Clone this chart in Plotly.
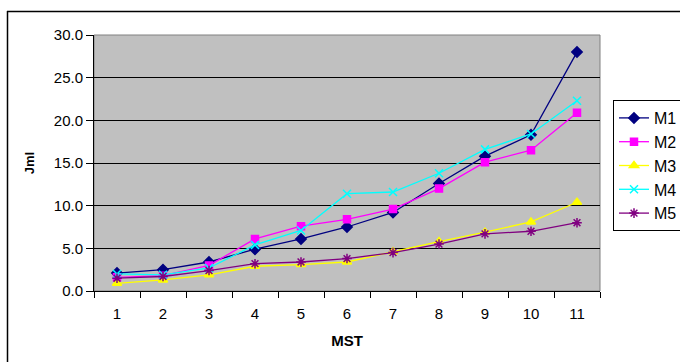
import plotly.graph_objects as go

categories = ["1", "2", "3", "4", "5", "6", "7", "8", "9", "10", "11"]
m1 = [2.1, 2.5, 3.4, 4.9, 6.1, 7.5, 9.2, 12.6, 15.8, 18.3, 28.0]
m2 = [1.6, 1.8, 3.0, 6.1, 7.6, 8.4, 9.6, 12.0, 15.1, 16.5, 20.9]
m3 = [0.9, 1.3, 1.9, 2.9, 3.1, 3.4, 4.6, 5.8, 6.9, 8.1, 10.4]
m4 = [2.0, 1.9, 2.7, 5.4, 7.1, 11.4, 11.6, 13.8, 16.6, 18.4, 22.3]
m5 = [1.5, 1.7, 2.4, 3.2, 3.4, 3.8, 4.5, 5.5, 6.7, 7.0, 8.0]
series_names = ["M1", "M2", "M3", "M4", "M5"]
y_ticks = [0, 5, 10, 15, 20, 25, 30]
y_ticklabels = ["0.0", "5.0", "10.0", "15.0", "20.0", "25.0", "30.0"]

styles = [
    ("#000080", "diamond", 8),
    ("#FF00FF", "square", 7),
    ("#FFFF00", "triangle-up", 8),
    ("#00FFFF", "x-thin-open", 8),
    ("#800080", "asterisk-open", 8),
]

fig = go.Figure()
for name, vals, (col, sym, sz) in zip(series_names, [m1, m2, m3, m4, m5], styles):
    fig.add_trace(go.Scatter(
        x=categories, y=vals, name=name, mode="lines+markers",
        line=dict(color=col, width=1.3),
        marker=dict(symbol=sym, size=sz, color=col, line=dict(color=col, width=1.5)),
    ))

font_family = "Liberation Sans, Arial, sans-serif"

L, R, T, B = 94, 80, 35, 71
W, H = 680, 362
pw, ph = W - L - R, H - T - B

fig.update_layout(
    width=W, height=H, autosize=False,
    margin=dict(l=L, r=R, t=T, b=B, pad=0, autoexpand=False),
    paper_bgcolor="white", plot_bgcolor="#C0C0C0",
    font=dict(family=font_family, size=15, color="black"),
    showlegend=True,
    legend=dict(
        xref="container", yref="container",
        x=613 / W, y=1 - 100 / H, xanchor="left", yanchor="top",
        bordercolor="black", borderwidth=1, bgcolor="white",
        font=dict(size=16, family=font_family), tracegroupgap=0,
        itemwidth=30,
    ),
    xaxis=dict(
        type="category", range=[-0.5, len(categories) - 0.5],
        tickson="boundaries", ticks="outside", ticklen=6,
        tickcolor="black", showline=True, linecolor="black", linewidth=1,
        showgrid=False, zeroline=False, automargin=False,
        ticklabelstandoff=9,
        title=dict(text="<b>MST</b>", font=dict(size=15), standoff=14),
        tickfont=dict(size=15),
    ),
    yaxis=dict(
        range=[0, 30], tickvals=y_ticks, ticktext=y_ticklabels,
        ticks="outside", ticklen=7, tickcolor="black",
        showline=True, linecolor="black", linewidth=1,
        showgrid=True, gridcolor="black", gridwidth=1, zeroline=False,
        automargin=False,
        title=dict(text="<b>Jml</b>", font=dict(size=13), standoff=16),
        tickfont=dict(size=15),
    ),
    shapes=[
        dict(type="rect", xref="paper", yref="paper", x0=0, x1=1, y0=0, y1=1,
             line=dict(color="#808080", width=1), layer="below"),
        dict(type="line", xref="paper", yref="paper",
             x0=(7 - L) / pw, x1=(W - L) / pw,
             y0=(T + ph - 11.5) / ph, y1=(T + ph - 11.5) / ph,
             line=dict(color="black", width=1.5), layer="above"),
        dict(type="line", xref="paper", yref="paper",
             x0=(7.5 - L) / pw, x1=(7.5 - L) / pw,
             y0=(T + ph - H) / ph, y1=(T + ph - 11) / ph,
             line=dict(color="black", width=1.5), layer="above"),
    ],
)

fig.write_html("out.html", config={"displayModeBar": False},
               post_script="document.body.style.margin='0px';document.body.style.overflow='hidden';")
